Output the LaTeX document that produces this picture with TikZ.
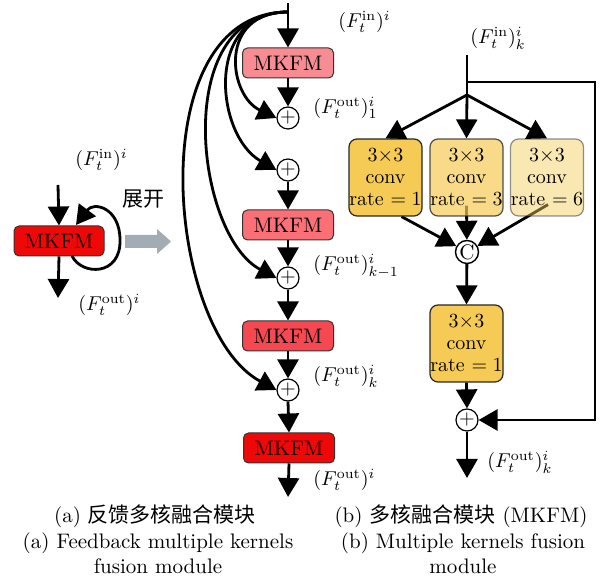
\documentclass[tikz,border=0pt]{standalone}
\usepackage{fontspec}
\newfontfamily\cjk{Noto Sans CJK SC}
\usetikzlibrary{arrows.meta,calc,backgrounds}
\definecolor{mkA}{RGB}{247,140,146}
\definecolor{mkB}{RGB}{250,112,118}
\definecolor{mkC}{RGB}{245,72,80}
\definecolor{mkD}{RGB}{238,8,8}
\definecolor{gold}{RGB}{245,203,85}
\definecolor{grayarrow}{RGB}{162,172,180}
\begin{document}
\begin{tikzpicture}[x=0.5pt,y=-0.5pt,
  arr/.style={line width=1.4pt,-{Triangle[length=9.5pt,width=10.5pt]}},
  ln/.style={line width=1.4pt},
  mkfm/.style={draw=black!80,line width=0.5pt,rounded corners=2.5pt,minimum width=45.5pt,minimum height=15pt,inner sep=0pt,font=\fontsize{10.5}{12}\selectfont},
  convbox/.style={draw=black!85,line width=0.6pt,rounded corners=4pt,minimum width=36.5pt,minimum height=38.5pt,inner sep=0pt,align=center,font=\fontsize{10}{11}\selectfont},
  plusnode/.style={circle,draw,fill=white,line width=0.6pt,minimum size=11pt,inner sep=0pt,font=\fontsize{10}{12}\selectfont},
  lbl/.style={inner sep=0pt,anchor=west,font=\fontsize{10}{12}\selectfont},
  captext/.style={inner sep=0pt,align=center,font=\fontsize{10.5}{12.5}\selectfont}]
\useasboundingbox (0,0) rectangle (605,581);

% ---------------- left (a) small ----------------
\node[mkfm,fill=mkD,minimum width=45pt] (L) at (59,241) {MKFM};
\coordinate (inl) at (58,185);
\coordinate (outl) at (58,298);
\draw[arr] (inl) -- (L.north);
\draw[arr] (L.south) -- (outl);
\coordinate (ls) at (72,256);
\coordinate (lr) at (120,240);
\coordinate (le) at (76,225);
\draw[arr] (ls) .. controls (82,276) and (121,276) .. (lr) .. controls (120,208) and (94,201) .. (le);
\node[lbl] (linl) at (75,160) {$(F_t^{\mathrm{in}})^i$};
\node[lbl] (loutl) at (78,305) {$(F_t^{\mathrm{out}})^i$};
\node[inner sep=0pt,font=\fontsize{10.5}{12}\selectfont\cjk] (zk) at (143,199) {展开};
\fill[grayarrow] (125,235) -- (157,235) -- (157,229) -- (171,241.5) -- (157,254) -- (157,248) -- (125,248) -- cycle;

% ---------------- middle (a) expanded ----------------
\coordinate (topm) at (288,3);
\coordinate (jm) at (288,12);
\node[mkfm,fill=mkA] (m1) at (288,63) {MKFM};
\node[plusnode] (p1) at (288,118) {$+$};
\node[plusnode] (p2) at (288,170) {$+$};
\node[mkfm,fill=mkB] (m2) at (288,225) {MKFM};
\node[plusnode] (p3) at (288,278) {$+$};
\node[mkfm,fill=mkC] (m3) at (288,336) {MKFM};
\node[plusnode] (p4) at (288,390) {$+$};
\node[mkfm,fill=mkD] (m4) at (289,448) {MKFM};
\coordinate (outm) at (288,497);

\draw[ln] (topm) -- (jm);
\draw[arr] (jm) -- (m1.north);
\draw[arr] (m1.south) -- (p1.north);
\draw[arr] (p2.south) -- (m2.north);
\draw[arr] (m2.south) -- (p3.north);
\draw[arr] (p3.south) -- (m3.north);
\draw[arr] (m3.south) -- (p4.north);
\draw[arr] (p4.south) -- (m4.north);
\draw[arr] (m4.south) -- (outm);

\draw[arr] (jm) .. controls (218,12) and (228,95) .. (p1.west);
\draw[arr] (jm) .. controls (204,12) and (215,135) .. (p2.west);
\draw[arr] (jm) .. controls (170,12) and (195,235) .. (p3.west);
\draw[arr] (jm) .. controls (140,12) and (165,330) .. (p4.west);

\node[lbl] (linm) at (338,22) {$(F_t^{\mathrm{in}})^i$};
\node[lbl] (lo1) at (313,108) {$(F_t^{\mathrm{out}})^i_1$};
\node[lbl] (lok1) at (313,266) {$(F_t^{\mathrm{out}})^i_{k-1}$};
\node[lbl] (lok) at (313,376) {$(F_t^{\mathrm{out}})^i_k$};
\node[lbl] (lo) at (313,480) {$(F_t^{\mathrm{out}})^i$};

% ---------------- right (b) ----------------
\coordinate (inr) at (467,55);
\coordinate (sk) at (467,82);
\coordinate (skR) at (595,82);
\coordinate (jr) at (467,95);
\node[convbox,fill=gold] (b1) at (385.5,177.5) {$3{\times}3$\\conv\\rate $=1$};
\node[convbox,fill=gold,fill opacity=0.7,text opacity=1,draw opacity=0.8] (b2) at (466.5,177.5) {$3{\times}3$\\conv\\rate $=3$};
\node[convbox,fill=gold,fill opacity=0.45,text opacity=1,draw opacity=0.5] (b3) at (547,177.5) {$3{\times}3$\\conv\\rate $=6$};
\node[circle,draw,fill=white,line width=0.7pt,minimum size=11.5pt,inner sep=0pt,font=\fontsize{10.5}{12}\selectfont] (cc) at (467,252) {C};
\node[convbox,fill=gold] (b4) at (466.5,343.5) {$3{\times}3$\\conv\\rate $=1$};
\node[plusnode] (pr) at (467,420) {$+$};
\coordinate (outr) at (467,478);

\draw[ln] (inr) -- (jr);
\draw[arr] (jr) -- (b1.north);
\draw[arr] (jr) -- (b2.north);
\draw[arr] (jr) -- (b3.north);
\begin{scope}[on background layer]
\draw[arr] ($(b1.south)+(16,0)$) -- (cc);
\draw[arr] ($(b2.south)+(0,-11)$) -- (cc);
\draw[arr] ($(b3.south)+(1,-12)$) -- (cc);
\end{scope}
\draw[arr] (cc) -- (b4.north);
\draw[arr] (b4.south) -- (pr.north);
\draw[arr] (pr.south) -- (outr);
\draw[arr] (sk) -- (skR) |- (pr.east);

\node[lbl] (linr) at (470,38) {$(F_t^{\mathrm{in}})^i_k$};
\node[lbl] (lor) at (487,462) {$(F_t^{\mathrm{out}})^i_k$};

% ---------------- captions ----------------
\node[captext] (ca1) at (155,516) {(a) {\cjk 反馈多核融合模块}};
\node[captext] (ca2) at (158,553.5) {(a) Feedback multiple kernels\\fusion module};
\node[captext] (cb1) at (461,516) {(b) {\cjk 多核融合模块} (MKFM)};
\node[captext] (cb2) at (463,553.5) {(b) Multiple kernels fusion\\module};
\end{tikzpicture}
\end{document}
